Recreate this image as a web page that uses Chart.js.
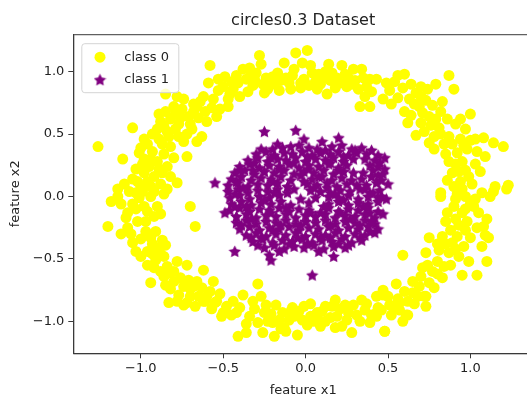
<!DOCTYPE html>
<html>
<head>
<meta charset="utf-8">
<script src="https://cdn.jsdelivr.net/npm/chart.js@4.4.0/dist/chart.umd.min.js"></script>
<style>
  html, body { margin: 0; padding: 0; background: #fff; overflow: hidden; }
  #wrap { width: 540px; height: 398px; }
</style>
</head>
<body>
<div id="wrap"><canvas id="chart" width="540" height="398"></canvas></div>
<script>
const chartTitle = 'circles0.3 Dataset';
const seriesNames = ['class 0', 'class 1'];
const axisTitles = ['feature x1', 'feature x2'];
const xTicks = [-1.0, -0.5, 0.0, 0.5, 1.0];
const yTicks = [-1.0, -0.5, 0.0, 0.5, 1.0];
const xRange = [-1.41, 1.38];
const yRange = [-1.256, 1.30];

// outer ring
const class0Points = [
  [-0.58,1.05],[-0.59,0.91],[-0.53,0.94],[-0.53,0.85],[-0.62,0.80],[-0.56,0.78],[-0.85,0.82],[-0.78,0.80],
  [-0.74,0.78],[-0.80,0.72],[-0.75,0.70],[-0.68,0.68],[-0.57,0.71],[-0.52,0.70],[-0.89,0.66],[-0.85,0.68],
  [-0.82,0.62],[-0.76,0.63],[-0.65,0.63],[-0.60,0.60],[-0.54,0.64],[-0.90,0.54],[-0.86,0.56],[-0.79,0.54],
  [-1.05,0.55],[-0.89,0.46],[-0.87,0.42],[-0.74,0.44],[-0.63,0.48],[-0.98,0.46],[-0.96,0.42],[-1.00,0.39],
  [-1.26,0.40],[-1.11,0.30],[-1.01,0.35],[-0.98,0.30],[-0.90,0.28],[-0.86,0.34],[-0.80,0.31],[-0.72,0.32],
  [-1.03,0.22],[-0.98,0.19],[-0.92,0.16],[-0.87,0.19],[-1.05,0.14],[-1.10,0.10],[-1.14,0.06],[-1.00,0.08],
  [-0.94,0.08],[-0.88,0.10],[-0.78,0.11],[-1.07,0.04],[-0.92,0.04],
  [-0.70,0.58],[-0.72,0.50],[-0.68,0.74],[-0.64,0.76],[-0.83,0.48],[-0.93,0.36],[-0.82,0.40],[-0.95,0.24],[-0.84,0.24],
  [-0.66,0.72],[-0.71,0.64],[-0.61,0.68],[-0.79,0.66],[-0.88,0.60],[-0.77,0.58],[-0.84,0.52],[-0.93,0.50],
  [-0.69,0.54],[-0.77,0.48],[-0.66,0.44],[-0.94,0.30],[-0.89,0.22],[-0.99,0.26],[-1.02,0.12],[-0.96,0.12],
  [-0.82,0.16],[-0.84,0.06],[-0.99,0.04],
  [-0.49,0.96],[-0.47,0.78],[-0.47,0.72],[-0.42,0.97],[-0.38,1.02],[-0.34,1.03],[-0.41,0.91],[-0.36,0.94],
  [-0.31,0.94],[-0.28,1.13],[-0.27,1.06],[-0.30,0.99],[-0.32,0.89],[-0.25,0.83],[-0.26,0.90],[-0.22,0.91],
  [-0.17,0.99],[-0.13,1.07],[-0.16,0.85],[-0.10,0.91],[-0.09,0.86],[-0.03,0.91],[-0.03,0.87],[-0.06,1.15],
  [0.01,1.17],[-0.02,1.07],[0.03,1.05],[0.04,0.99],[0.07,0.86],[0.10,0.94],[0.13,0.82],[0.14,1.06],
  [0.16,0.99],[0.21,0.91],[0.22,1.05],[0.26,0.95],[0.29,1.02],[0.34,1.02],[0.32,0.86],[0.36,0.80],
  [0.33,0.72],[0.39,0.72],[0.39,0.94],
  [-0.44,0.86],[-0.20,0.96],[-0.12,0.95],[0.06,0.92],[0.18,0.87],[0.25,0.88],[0.12,1.00],[-0.07,1.02],
  [0.30,0.93],[0.37,0.88],[-0.50,0.88],
  [-0.46,0.82],[-0.40,0.80],[-0.35,0.84],[-0.23,0.86],[-0.19,0.90],[-0.15,0.93],[-0.08,0.97],[-0.01,0.94],
  [0.02,0.89],[0.09,0.90],[0.15,0.93],[0.19,0.95],[0.24,0.98],[0.28,0.90],[0.35,0.95],[0.40,0.84],
  [0.08,0.98],[-0.24,0.95],[-0.33,0.98],[-0.45,0.92],
  [0.43,0.94],[0.49,0.91],[0.56,0.97],[0.60,0.98],[0.59,0.87],[0.67,0.83],[0.74,0.86],[0.47,0.78],
  [0.52,0.74],[0.56,0.79],[0.60,0.68],[0.66,0.74],[0.71,0.67],[0.62,0.59],[0.67,0.49],[0.75,0.43],
  [0.78,0.38],[0.87,0.97],[0.90,0.86],[0.83,0.76],[0.82,0.68],[0.79,0.62],[0.81,0.55],[0.86,0.62],
  [0.91,0.58],[0.97,0.54],[1.00,0.66],[0.87,0.48],[0.84,0.42],[0.89,0.42],[1.03,0.46],[1.08,0.47],
  [1.14,0.43],[1.20,0.40],[0.98,0.38],[1.09,0.32],[0.87,0.28],[0.91,0.26],[0.95,0.28],[1.03,0.26],
  [0.89,0.19],[0.99,0.16],[1.01,0.10],[0.90,0.08],[1.15,0.08],[1.23,0.09],[0.82,0.03],[0.95,0.06],
  [0.51,0.85],[0.63,0.78],[0.70,0.80],[0.77,0.73],[0.76,0.57],[0.92,0.35],[0.94,0.46],[1.04,0.36],
  [0.85,0.34],[0.94,0.12],[1.06,0.20],[0.86,0.13],
  [0.54,0.92],[0.64,0.90],[0.70,0.88],[0.79,0.90],[0.73,0.77],[0.69,0.72],[0.75,0.64],[0.70,0.59],
  [0.82,0.50],[0.78,0.48],[0.72,0.52],[0.94,0.62],[0.96,0.41],[1.00,0.45],[0.64,0.65],
  [-1.18,-0.04],[-1.14,0.00],[-1.03,0.03],[-1.01,-0.01],[-0.94,0.00],[-0.86,0.02],[-1.05,-0.06],[-1.08,-0.13],
  [-1.09,-0.17],[-1.03,-0.10],[-0.92,-0.16],[-0.88,-0.14],[-0.90,-0.08],[-1.20,-0.24],[-1.08,-0.25],[-0.97,-0.28],
  [-0.91,-0.28],[-0.94,-0.33],[-0.87,-0.35],[-1.05,-0.37],[-1.03,-0.44],[-0.96,-0.44],[-0.90,-0.41],[-0.85,-0.39],
  [-0.96,-0.55],[-0.91,-0.51],[-0.92,-0.57],[-0.84,-0.56],[-0.78,-0.52],[-0.72,-0.55],[-0.94,-0.69],[-0.86,-0.64],
  [-0.82,-0.61],[-0.85,-0.71],[-0.80,-0.68],[-0.76,-0.65],[-0.71,-0.67],[-0.68,-0.72],[-0.77,-0.79],[-0.70,-0.80],
  [-0.74,-0.87],[-0.83,-0.85],[-0.63,-0.73],[-0.62,-0.59],[-0.56,-0.68],[-0.61,-0.84],[-0.54,-0.84],[-0.51,-0.96],
  [-0.70,-0.08],[-0.67,-0.24],
  [-0.98,-0.08],[-0.97,-0.20],[-1.00,-0.34],[-0.86,-0.48],[-0.80,-0.60],[-0.74,-0.72],[-0.65,-0.80],[-0.58,-0.76],
  [-1.12,-0.06],[-0.96,-0.12],[-1.02,-0.20],[-1.12,-0.30],[-1.06,-0.30],[-0.93,-0.38],[-1.00,-0.48],[-0.88,-0.46],
  [-0.93,-0.46],[-0.88,-0.60],[-0.82,-0.74],[-0.78,-0.84],[-0.70,-0.74],[-0.66,-0.68],[-0.60,-0.80],[-0.67,-0.88],
  [-0.57,-0.90],[-0.52,-0.78],
  [-0.29,-0.70],[-0.38,-0.79],[-0.48,-0.88],[-0.45,-0.95],[-0.40,-0.89],[-0.41,-1.12],[-0.36,-1.09],[-0.34,-0.96],
  [-0.29,-1.01],[-0.24,-0.87],[-0.25,-0.93],[-0.26,-1.09],[-0.20,-1.01],[-0.18,-0.87],[-0.19,-1.12],[-0.13,-1.05],
  [-0.08,-0.89],[-0.07,-0.96],[-0.05,-1.11],[-0.01,-0.88],[0.01,-1.03],[0.03,-0.96],[0.07,-0.93],[0.12,-0.88],
  [0.12,-1.00],[0.18,-0.83],[0.19,-0.96],[0.22,-1.04],[0.26,-0.93],[0.28,-1.09],[0.29,-0.87],[0.34,-0.83],
  [0.33,-1.00],[0.36,-0.91],[0.39,-1.01],[-0.49,-0.93],
  [-0.72,-0.85],[-0.62,-0.84],[-0.55,-0.85],[-0.50,-0.93],[-0.42,-0.93],[-0.23,-1.00],[-0.12,-1.08],[-0.09,-0.92],
  [0.07,-0.96],[0.18,-1.05],[0.43,-0.93],[0.48,-1.08],[0.51,-0.87],[0.57,-0.91],[0.61,-0.95],[0.47,-0.79],
  [0.73,-0.88],[0.72,-0.80],
  [-0.32,-0.84],[-0.14,-0.93],[0.03,-0.86],[0.24,-0.87],[-0.16,-0.99],[0.09,-1.04],[-0.02,-0.99],
  [-0.44,-0.84],[-0.36,-1.02],[-0.31,-0.90],[-0.21,-0.94],[-0.15,-1.06],[-0.10,-0.99],[-0.04,-0.92],[0.05,-1.00],
  [0.10,-0.92],[0.15,-0.97],[0.21,-0.90],[0.25,-0.99],[0.31,-0.95],[0.37,-0.86],[0.40,-0.95],[0.46,-0.91],
  [-0.27,-0.80],[0.16,-0.88],
  [0.82,0.00],[0.91,-0.02],[0.97,0.00],[1.03,-0.02],[1.14,0.04],[1.22,0.06],[0.86,-0.13],[0.85,-0.20],
  [0.95,-0.13],[0.98,-0.20],[0.93,-0.23],[1.05,-0.13],[1.10,-0.18],[1.04,-0.25],[1.09,-0.31],[1.11,-0.33],
  [1.07,-0.40],[1.00,-0.33],[0.92,-0.32],[0.89,-0.37],[0.83,-0.32],[0.75,-0.33],[0.81,-0.43],[0.87,-0.45],
  [0.93,-0.48],[0.99,-0.52],[1.10,-0.52],[0.73,-0.45],[0.80,-0.52],[0.59,-0.47],[0.71,-0.57],[0.77,-0.60],
  [0.83,-0.65],[0.95,-0.63],[1.04,-0.63],[0.69,-0.72],[0.75,-0.69],[0.78,-0.73],[0.73,-0.80],[0.65,-0.77],
  [0.60,-0.76],[0.62,-0.84],[0.57,-0.85],[0.53,-0.88],[0.47,-0.75],[0.50,-0.80],[0.43,-0.80],[0.44,-0.89],
  [0.43,-0.96],[0.52,-0.95],[0.62,-0.95],[0.59,-1.00],[0.48,-1.08],
  [0.90,-0.08],[0.88,-0.27],[0.96,-0.40],[0.84,-0.56],[0.70,-0.64],[0.66,-0.86],[0.55,-0.70],[1.02,-0.08],
  [0.65,-0.68],[0.68,-0.80],[0.56,-0.82],[0.80,-0.62],[0.74,-0.55],[0.88,-0.55],[0.91,-0.42],[0.85,-0.38],
  [0.97,-0.27],[0.80,-0.38],[0.92,0.02],[1.07,0.03],[1.00,-0.06],[1.08,-0.24],[0.91,-0.18],[0.97,-0.10],
  [1.12,0.00],[0.97,0.21],[0.93,0.20]
];

// inner blob
const class1Points = [
  [-0.25,0.52],[-0.06,0.53],[0.20,0.47],[-0.01,0.46],[0.10,0.44],[-0.17,0.42],
  [-0.14,0.39],[-0.09,0.40],[-0.04,0.41],[0.02,0.39],[0.07,0.38],[0.16,0.40],[0.22,0.41],[0.28,0.38],[0.34,0.39],
  [-0.30,0.34],[-0.24,0.36],[-0.19,0.33],[-0.13,0.35],[-0.08,0.34],[-0.02,0.36],[0.04,0.33],[0.09,0.35],
  [0.15,0.34],[0.20,0.36],[0.26,0.33],[0.31,0.35],[0.37,0.34],[0.44,0.33],
  [-0.35,0.29],[-0.29,0.31],[-0.23,0.28],[-0.17,0.30],[-0.12,0.29],[-0.06,0.31],[0.00,0.28],[0.06,0.30],
  [0.12,0.29],[0.17,0.31],[0.23,0.28],[0.29,0.30],[0.36,0.30],[0.42,0.29],[0.48,0.31],
  [-0.40,0.24],[-0.34,0.26],[-0.28,0.23],[-0.22,0.25],[-0.16,0.24],[-0.10,0.26],[-0.04,0.23],[0.02,0.25],
  [0.08,0.24],[0.14,0.26],[0.20,0.23],[0.25,0.25],[0.39,0.25],[0.44,0.24],[0.48,0.22],
  [-0.43,0.19],[-0.37,0.21],[-0.31,0.18],[-0.25,0.20],[-0.19,0.19],[-0.13,0.21],[-0.07,0.18],[-0.01,0.20],
  [0.05,0.19],[0.11,0.21],[0.17,0.18],[0.23,0.20],[0.29,0.19],[0.35,0.19],[0.41,0.21],[0.47,0.18],
  [-0.45,0.14],[-0.39,0.16],[-0.33,0.13],[-0.27,0.15],[-0.21,0.14],[-0.15,0.16],[-0.09,0.13],[0.04,0.14],
  [0.10,0.16],[0.16,0.13],[0.22,0.15],[0.34,0.14],[0.40,0.16],[0.46,0.13],
  [-0.55,0.11],[-0.47,0.09],[-0.41,0.11],[-0.35,0.08],[-0.29,0.10],[-0.23,0.09],[-0.17,0.11],[-0.11,0.08],
  [0.01,0.10],[0.07,0.09],[0.13,0.11],[0.19,0.08],[0.25,0.10],[0.31,0.09],[0.37,0.09],[0.43,0.11],[0.50,0.10],
  [-0.47,0.04],[-0.41,0.06],[-0.35,0.03],[-0.29,0.05],[-0.23,0.04],[-0.17,0.06],[-0.11,0.03],[0.03,0.05],
  [0.09,0.04],[0.15,0.03],[0.21,0.05],[0.27,0.04],[0.33,0.06],[0.39,0.03],[0.45,0.05],
  [-0.46,-0.01],[-0.40,0.01],[-0.34,-0.02],[-0.28,0.00],[-0.22,-0.01],[-0.16,0.01],[-0.03,-0.02],[0.14,0.00],
  [0.20,-0.01],[0.26,0.01],[0.32,-0.02],[0.38,0.00],[0.44,-0.01],[0.49,-0.02],
  [-0.45,-0.06],[-0.39,-0.04],[-0.33,-0.07],[-0.27,-0.05],[-0.21,-0.06],[-0.15,-0.04],[-0.09,-0.07],[0.02,-0.05],
  [0.14,-0.06],[0.20,-0.04],[0.26,-0.07],[0.32,-0.05],[0.38,-0.06],[0.44,-0.04],
  [-0.46,-0.11],[-0.40,-0.09],[-0.34,-0.12],[-0.28,-0.10],[-0.22,-0.11],[-0.16,-0.09],[-0.10,-0.12],[-0.04,-0.10],
  [0.02,-0.11],[0.14,-0.09],[0.20,-0.12],[0.26,-0.10],[0.32,-0.11],[0.38,-0.09],[0.44,-0.12],[0.47,-0.14],
  [-0.49,-0.13],[-0.42,-0.16],[-0.36,-0.14],[-0.30,-0.17],[-0.24,-0.15],[-0.18,-0.16],[-0.12,-0.14],[-0.06,-0.17],
  [0.00,-0.15],[0.06,-0.16],[0.12,-0.14],[0.18,-0.17],[0.24,-0.15],[0.30,-0.16],[0.36,-0.14],[0.42,-0.17],
  [-0.42,-0.21],[-0.36,-0.19],[-0.30,-0.22],[-0.24,-0.20],[-0.18,-0.21],[-0.12,-0.19],[-0.06,-0.22],[0.00,-0.20],
  [0.06,-0.21],[0.12,-0.19],[0.18,-0.22],[0.24,-0.20],[0.30,-0.21],[0.36,-0.19],[0.42,-0.22],
  [-0.40,-0.26],[-0.34,-0.24],[-0.28,-0.27],[-0.22,-0.25],[-0.16,-0.26],[-0.10,-0.24],[-0.04,-0.27],[0.02,-0.25],
  [0.08,-0.26],[0.14,-0.24],[0.20,-0.27],[0.26,-0.25],[0.32,-0.26],[0.38,-0.24],[0.44,-0.26],
  [-0.36,-0.31],[-0.30,-0.29],[-0.24,-0.32],[-0.18,-0.30],[-0.12,-0.31],[-0.06,-0.29],[0.00,-0.32],[0.06,-0.30],
  [0.12,-0.31],[0.18,-0.29],[0.24,-0.32],[0.30,-0.30],[0.36,-0.31],[0.42,-0.29],
  [-0.32,-0.36],[-0.26,-0.34],[-0.20,-0.37],[-0.14,-0.35],[-0.08,-0.36],[-0.02,-0.34],[0.04,-0.37],[0.10,-0.35],
  [0.16,-0.36],[0.22,-0.34],[0.28,-0.37],[0.34,-0.35],
  [-0.25,-0.41],[-0.19,-0.39],[-0.13,-0.42],[-0.07,-0.40],[-0.01,-0.41],[0.05,-0.39],[0.11,-0.42],[0.17,-0.40],[0.24,-0.41],
  [-0.43,-0.44],[-0.22,-0.47],[-0.21,-0.51],[0.04,-0.63],[0.17,-0.48],
  // stars lying between the rows
  [-0.27,0.38],[0.12,0.37],[0.40,0.37],[-0.32,0.21],[0.08,0.16],[0.44,0.17],[-0.38,0.07],[0.05,0.07],
  [0.36,0.06],[-0.25,-0.03],[0.23,-0.03],[-0.43,-0.08],[0.09,-0.13],[-0.33,-0.18],[0.27,-0.18],[-0.15,-0.23],
  [0.33,-0.23],[-0.27,-0.33],[0.09,-0.33],[-0.10,-0.38],[0.20,-0.38],[-0.20,-0.27],[0.40,-0.20],[0.46,0.00],
  [-0.21,0.31],[0.01,0.32],[0.23,0.32],[-0.31,0.27],[-0.07,0.27],[0.15,0.27],[0.45,0.27],[-0.40,0.21],
  [-0.16,0.22],[0.02,0.22],[0.20,0.21],[-0.42,0.12],[-0.20,0.12],[0.13,0.07],[0.28,0.13],[-0.43,0.02],
  [-0.19,0.03],[0.18,0.02],[0.41,0.03],[-0.36,-0.08],[-0.12,-0.09],[0.11,-0.08],[0.35,-0.08],[-0.21,-0.13],
  [0.03,-0.13],[0.21,-0.13],[0.39,-0.13],[-0.39,-0.23],[-0.03,-0.23],[0.15,-0.23],[0.39,-0.28],[-0.33,-0.33],
  [-0.05,-0.33],[0.15,-0.33],[0.33,-0.33],[-0.29,-0.39],[0.01,-0.38],[0.26,-0.39],[-0.16,-0.44],[0.08,-0.44],
  [-0.20,0.38],[0.30,0.37],[-0.03,0.17],[-0.07,0.06],[-0.01,0.12],[0.06,-0.01]
];

const FONT = 'DejaVu Sans';
const TEXT = '#222';
const AXIS = '#3a3a3a';
const YELLOW = '#ffff00';
const PURPLE = '#800080';

function tickText(v) {
  return v.toFixed(1).replace('-', '\u2212');
}

// filled five-point star used as the class 1 marker
function makeStar(size, color) {
  const c = document.createElement('canvas');
  c.width = c.height = size;
  const g = c.getContext('2d');
  const R = size / 2, r = R * 0.5;
  g.beginPath();
  for (let i = 0; i < 10; i++) {
    const rad = i % 2 ? r : R;
    const a = -Math.PI / 2 + i * Math.PI / 5;
    g.lineTo(R + rad * Math.cos(a), R + rad * Math.sin(a) + 0.5);
  }
  g.closePath();
  g.fillStyle = color;
  g.fill();
  return c;
}
const STAR_SIZE = 13;
const starMarker = makeStar(STAR_SIZE, PURPLE);

const frame = {
  id: 'frame',
  afterDatasetsDraw(chart) {
    const { ctx, chartArea: a } = chart;
    ctx.save();
    ctx.strokeStyle = AXIS;
    ctx.lineWidth = 1;
    ctx.strokeRect(a.left + 0.5, a.top + 0.5, a.right - a.left, a.bottom - a.top);
    ctx.restore();
  }
};

const legendBox = {
  id: 'legendBox',
  afterDraw(chart) {
    const { ctx, chartArea: a } = chart;
    const x = a.left + 8, y = a.top + 9, w = 97, h = 49;
    ctx.save();
    ctx.fillStyle = 'rgba(255,255,255,0.8)';
    ctx.strokeStyle = '#d4d4d4';
    ctx.lineWidth = 1;
    ctx.beginPath();
    ctx.roundRect(x + 0.5, y + 0.5, w, h, 3);
    ctx.fill();
    ctx.stroke();
    ctx.font = '13px "' + FONT + '"';
    ctx.textBaseline = 'middle';
    chart.data.datasets.forEach((ds, i) => {
      const cy = y + 14 + i * 22.6;
      const mx = x + 18.7;
      if (i === 0) {
        ctx.beginPath();
        ctx.fillStyle = ds.backgroundColor;
        ctx.arc(mx, cy, ds.pointRadius, 0, Math.PI * 2);
        ctx.fill();
      } else {
        ctx.drawImage(starMarker, mx - STAR_SIZE / 2, cy - STAR_SIZE / 2);
      }
      ctx.fillStyle = TEXT;
      ctx.fillText(ds.label, x + 43, cy);
    });
    ctx.restore();
  }
};

const toXY = p => ({ x: p[0], y: p[1] });

new Chart(document.getElementById('chart'), {
  type: 'scatter',
  data: {
    datasets: [
      {
        label: seriesNames[0],
        data: class0Points.map(toXY),
        backgroundColor: YELLOW,
        borderWidth: 0,
        pointRadius: 5.5,
        pointStyle: 'circle',
        order: 2
      },
      {
        label: seriesNames[1],
        data: class1Points.map(toXY),
        backgroundColor: PURPLE,
        pointStyle: starMarker,
        pointRadius: 6,
        order: 1
      }
    ]
  },
  options: {
    responsive: false,
    animation: false,
    devicePixelRatio: 1,
    events: [],
    layout: { padding: { left: 0, right: 5, top: 0, bottom: 0 } },
    plugins: {
      legend: { display: false },
      tooltip: { enabled: false },
      title: {
        display: true,
        text: chartTitle,
        fullSize: false,
        color: TEXT,
        font: { family: FONT, size: 16, weight: 'normal' },
        padding: { top: 11, bottom: 4 }
      }
    },
    scales: {
      x: {
        type: 'linear',
        min: xRange[0],
        max: xRange[1],
        afterBuildTicks: s => { s.ticks = xTicks.map(v => ({ value: v })); },
        afterFit: s => { s.height = 44.7; },
        grid: { drawOnChartArea: false, drawTicks: true, tickLength: 5, color: AXIS, lineWidth: 1 },
        border: { display: true, color: AXIS, width: 1 },
        ticks: {
          autoSkip: false, maxRotation: 0, padding: 3, color: TEXT,
          font: { family: FONT, size: 13 },
          callback: v => tickText(v)
        },
        title: {
          display: true, text: axisTitles[0], color: TEXT,
          font: { family: FONT, size: 13 }, padding: { top: 0, bottom: 0 }
        }
      },
      y: {
        type: 'linear',
        min: yRange[0],
        max: yRange[1],
        afterBuildTicks: s => { s.ticks = yTicks.map(v => ({ value: v })); },
        afterFit: s => { s.width = 73.3; },
        grid: { drawOnChartArea: false, drawTicks: true, tickLength: 5, color: AXIS, lineWidth: 1 },
        border: { display: true, color: AXIS, width: 1 },
        ticks: {
          autoSkip: false, padding: 4, color: TEXT,
          font: { family: FONT, size: 13 },
          callback: v => tickText(v)
        },
        title: {
          display: true, text: axisTitles[1], color: TEXT,
          font: { family: FONT, size: 13 }, padding: { top: 8, bottom: 0 }
        }
      }
    }
  },
  plugins: [frame, legendBox]
});
</script>
</body>
</html>
